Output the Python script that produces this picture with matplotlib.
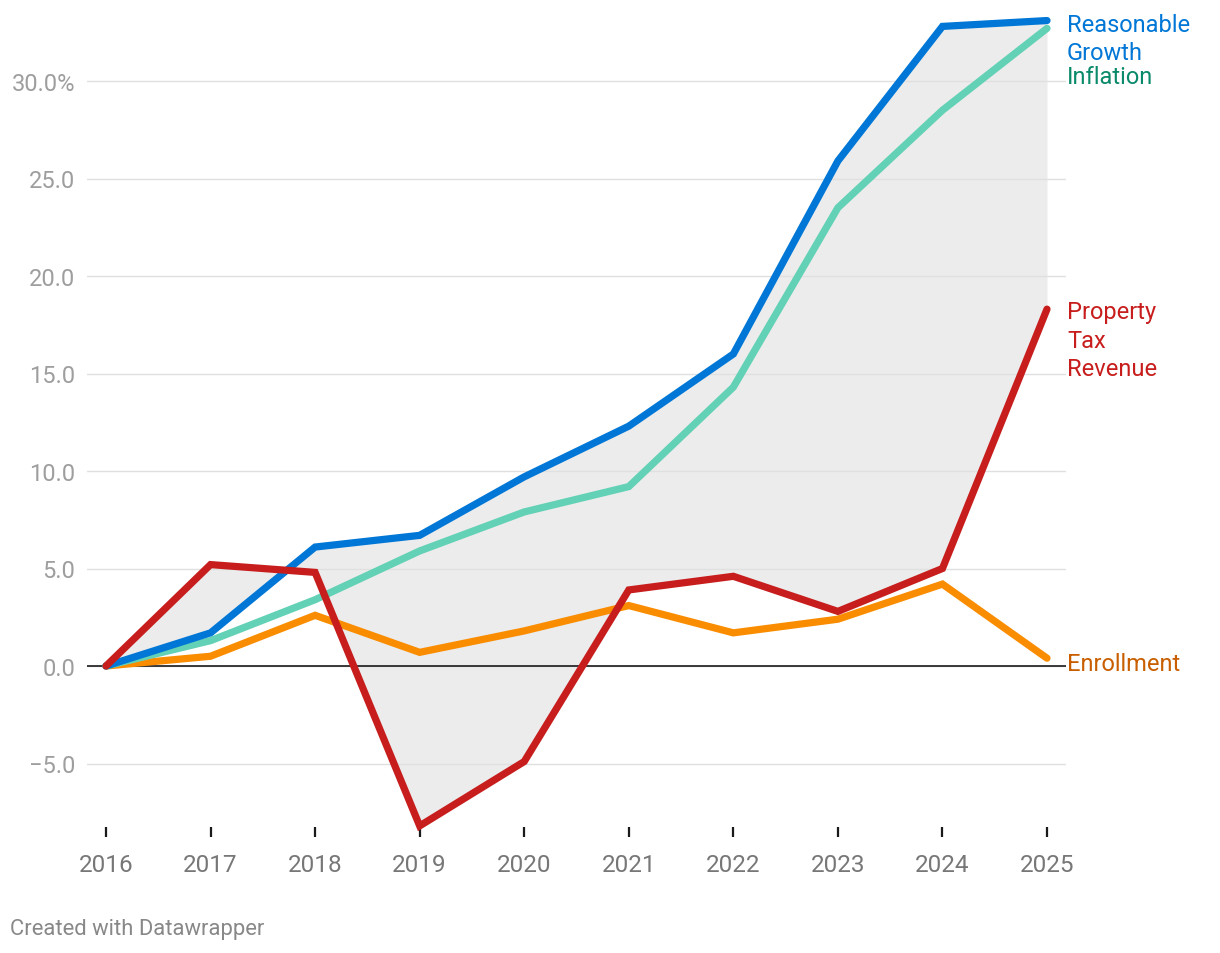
import matplotlib.pyplot as plt

plt.rcParams['font.family'] = ['Roboto', 'DejaVu Sans']

years = [2016, 2017, 2018, 2019, 2020, 2021, 2022, 2023, 2024, 2025]
growth = [0, 1.7, 6.1, 6.7, 9.7, 12.3, 16.0, 25.9, 32.8, 33.1]
inflation = [0, 1.3, 3.4, 5.9, 7.9, 9.2, 14.3, 23.5, 28.5, 32.7]
property_tax = [0, 5.2, 4.8, -8.2, -4.9, 3.9, 4.6, 2.8, 5.0, 18.3]
enrollment = [0, 0.5, 2.6, 0.7, 1.8, 3.1, 1.7, 2.4, 4.2, 0.4]

y_ticks = [-5, 0, 5, 10, 15, 20, 25, 30]
y_labels = ['\u22125.0', '0.0', '5.0', '10.0', '15.0', '20.0', '25.0', '30.0%']

BLUE = '#0077d6'
TEAL = '#62d1b5'
RED = '#c71e1d'
ORANGE = '#fa8c00'

W, H = 1220, 954
fig = plt.figure(figsize=(W / 100, H / 100), dpi=100)
ax = fig.add_axes([87 / W, 1 - 838 / H, (1066 - 87) / W, (838 - 10) / H])

ax.set_xlim(2016 - 19 / 104.56, 2025 + 19 / 104.56)
ax.set_ylim(-(838 - 667) / 19.5, (667 - 10) / 19.5)

# range between growth and property tax
ax.fill_between(years, growth, property_tax, color='#ececec', lw=0, zorder=1)

ax.set_yticks(y_ticks)
ax.set_yticklabels(y_labels)
ax.set_axisbelow('line')
ax.grid(axis='y', color='#e0e0e0', lw=1.0)
ax.axhline(0, color='#1a1a1a', lw=1.2, zorder=1.6)

lw = 5.2
for vals, col in [(enrollment, ORANGE), (inflation, TEAL), (growth, BLUE), (property_tax, RED)]:
    ax.plot(years, vals, color=col, lw=lw, solid_capstyle='round', solid_joinstyle='miter', zorder=3, clip_on=False)

for s in ax.spines.values():
    s.set_visible(False)

ax.set_xticks(years)
ax.tick_params(axis='x', direction='in', length=7, width=1.6, color='#1a1a1a', pad=11.5,
               labelsize=17.5, labelcolor='#777777')
ax.tick_params(axis='y', length=0, pad=8.5, labelsize=17, labelcolor='#9e9e9e')

labels = [
    ('Reasonable\nGrowth', growth, BLUE, -18),
    ('Inflation', inflation, '#0a8a6a', -48),
    ('Property\nTax\nRevenue', property_tax, RED, -31),
    ('Enrollment', enrollment, '#c85e00', -5),
]
for txt, vals, col, dy in labels:
    ax.annotate(txt, xy=(years[-1], vals[-1]), xytext=(20, dy), textcoords='offset pixels',
                ha='left', va='center', color=col, fontsize=17, linespacing=1.3,
                annotation_clip=False)

fig.text(10 / W, 1 - 930 / H, 'Created with Datawrapper', ha='left', va='center',
         color='#888888', fontsize=15.8)

fig.savefig('out.png', dpi=100)
